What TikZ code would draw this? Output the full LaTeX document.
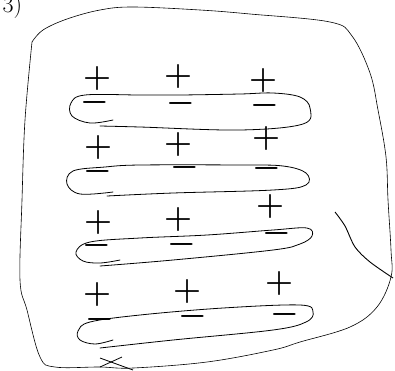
\RequirePackage{fix-cm}
\documentclass[tikz,border=0pt]{standalone}
\usepackage{tikz}
\usetikzlibrary{positioning}

\tikzset{
  chg/.style={font=\fontsize{32}{32}\selectfont\boldmath, inner sep=0pt, text height=0.5em, text depth=0pt},
  loopline/.style={line width=0.8pt, line cap=round, line join=round},
}

\begin{document}
\begin{tikzpicture}[x=1pt, y=-1pt]
                \useasboundingbox (0,0) rectangle (395,370);
                \node[anchor=base west, font=\fontsize{24}{24}\selectfont] (lbl) at (-1,12) {3)};
                % outer outline
                \draw[line width=0.6pt, smooth, tension=0.6] plot coordinates {(32,42) (43,30) (67,19) (100,10) (133,7) (200,10) (250,14) (330,22) (352,36) (370,73) (378,110) (386,157) (388,200) (391,250) (391,277) (377,307) (350,327) (300,342) (273,350) (207,362) (133,368) (100,367) (55,367) (40,357) (27,310) (20,280) (22,200) (25,120) (32,42)};
                \draw[line width=0.9pt, smooth] plot coordinates {(335,212) (345,226) (355,247) (370,262) (393,278)};
                \draw[line width=0.8pt] (100,358) -- (133,370);
                \draw[line width=0.8pt] (100,367) -- (122,357);
                % row 1
                \draw[loopline, smooth, tension=0.6] plot coordinates {(113,120) (90,123) (72,116) (71,103) (85,95) (140,95) (180,95) (240,94) (273,93) (300,97) (310,108) (303,124) (240,130) (140,127) (100,126)};
                \node[chg] (p11) at (97,84) {$+$};
                \node[chg] (p12) at (178,82) {$+$};
                \node[chg] (p13) at (263,86) {$+$};
                \node[chg] (m11) at (95,108) {$-$};
                \node[chg] (m12) at (181,109) {$-$};
                \node[chg] (m13) at (265,111) {$-$};
                % row 2
                \draw[loopline, smooth, tension=0.6] plot coordinates {(113,192) (80,194) (67,184) (73,171) (105,167) (140,165) (240,165) (283,166) (306,173) (306,185) (273,190) (173,193) (107,196)};
                \node[chg] (p21) at (98,153) {$+$};
                \node[chg] (p22) at (178,150) {$+$};
                \node[chg] (p23) at (266,144) {$+$};
                \node[chg] (m21) at (98,177) {$-$};
                \node[chg] (m22) at (185,173) {$-$};
                \node[chg] (m23) at (267,174) {$-$};
                % row 3
                \draw[loopline, smooth, tension=0.6] plot coordinates {(120,260) (100,263) (83,261) (76,252) (90,242) (140,238) (207,235) (273,230) (307,228) (312,236) (300,244) (273,250) (173,260) (100,266)};
                \node[chg] (p31) at (98,228) {$+$};
                \node[chg] (p32) at (178,225) {$+$};
                \node[chg] (p33) at (270,212) {$+$};
                \node[chg] (m31) at (97,251) {$-$};
                \node[chg] (m32) at (182,250) {$-$};
                \node[chg] (m33) at (277,239) {$-$};
                % row 4
                \draw[loopline, smooth, tension=0.6] plot coordinates {(113,340) (95,344) (80,340) (78,331) (90,322) (140,315) (223,308) (300,305) (313,312) (306,322) (273,330) (173,340) (100,348)};
                \node[chg] (p41) at (97,300) {$+$};
                \node[chg] (p42) at (187,297) {$+$};
                \node[chg] (p43) at (279,289) {$+$};
                \node[chg] (m41) at (100,325) {$-$};
                \node[chg] (m42) at (193,322) {$-$};
                \node[chg] (m43) at (285,320) {$-$};
            \end{tikzpicture}
\end{document}
